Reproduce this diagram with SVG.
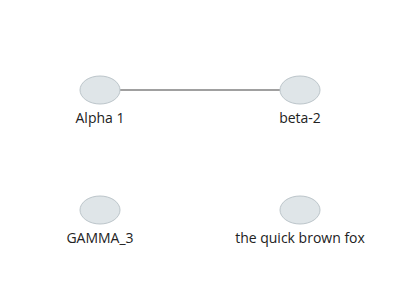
<svg xmlns="http://www.w3.org/2000/svg" width="400" height="300" viewBox="0 0 400 300">
<style>
.node ellipse{fill:#dfe5e8;stroke:#bcc5ca;stroke-width:1}
.node text{font-family:"Open Sans",sans-serif;font-size:14px;fill:#222;text-anchor:middle}
.edge{stroke:#a0a0a0;stroke-width:2;fill:none}
</style>
<rect width="400" height="300" fill="#fff"/>
<g id="connectors">
<line class="edge" x1="120" y1="90" x2="280" y2="90"/>
</g>
<g id="n1" class="node"><ellipse cx="100" cy="90" rx="20" ry="14"/><text x="100" y="123">Alpha 1</text></g>
<g id="n2" class="node"><ellipse cx="300" cy="90" rx="20" ry="14"/><text x="300" y="123">beta-2</text></g>
<g id="n3" class="node"><ellipse cx="100" cy="210" rx="20" ry="14"/><text x="100" y="243">GAMMA_3</text></g>
<g id="n4" class="node"><ellipse cx="300" cy="210" rx="20" ry="14"/><text x="300" y="243">the quick brown fox</text></g>
</svg>
